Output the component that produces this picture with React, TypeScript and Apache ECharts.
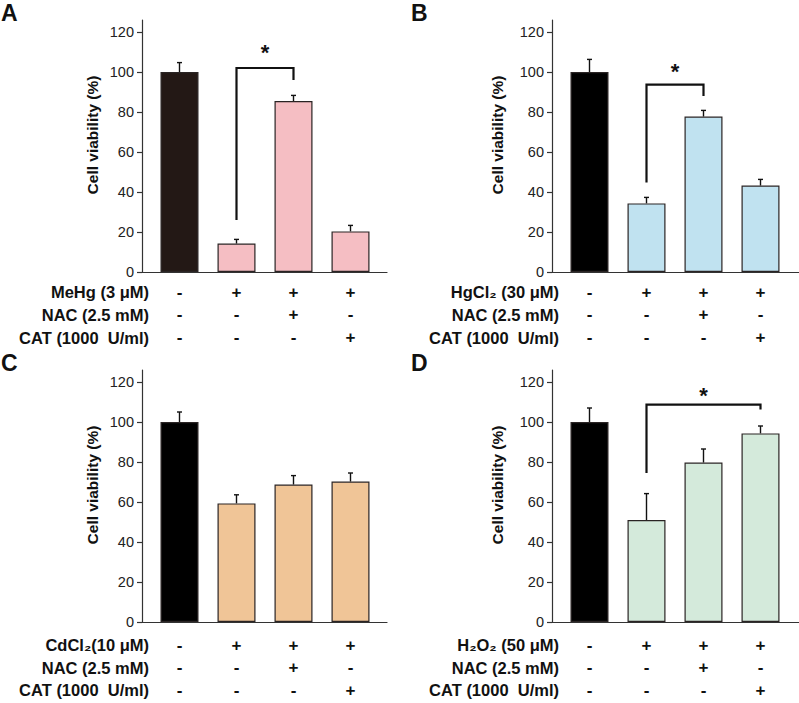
import React, { useEffect, useRef } from "react";
import * as echarts from "echarts";

// ---- data ----
const groupPositions = [0, 1, 2, 3];
const yTicks = [0, 20, 40, 60, 80, 100, 120];
const panelLetters = ["A", "B", "C", "D"];

const meanA = [100, 14.2, 85.5, 20.3];
const errA = [4.7, 2.1, 2.8, 3.0];
const meanB = [100, 34.3, 77.7, 43.2];
const errB = [6.3, 3.0, 3.1, 3.1];
const meanC = [100, 59.3, 68.7, 70.2];
const errC = [5.0, 4.3, 4.5, 4.3];
const meanD = [100, 51.0, 79.7, 94.3];
const errD = [7.0, 13.2, 6.8, 3.7];

const rowLabelsA = ["MeHg (3 μM)", "NAC (2.5 mM)", "CAT (1000  U/ml)"];
const rowLabelsB = ["HgCl₂ (30 μM)", "NAC (2.5 mM)", "CAT (1000  U/ml)"];
const rowLabelsC = ["CdCl₂(10 μM)", "NAC (2.5 mM)", "CAT (1000  U/ml)"];
const rowLabelsD = ["H₂O₂ (50 μM)", "NAC (2.5 mM)", "CAT (1000  U/ml)"];
const signs = [
  ["-", "+", "+", "+"],
  ["-", "-", "+", "-"],
  ["-", "-", "-", "+"],
];

// bracket: [fromGroup, toGroup, leftLow, top, rightLow, starY]
const bracketA = [1, 2, 26, 102, 96, 110];
const bracketB = [1, 2, 44.7, 93.7, 88, 100.5];
const bracketD = [1, 3, 74.5, 108.7, 106.2, 113.5];

const yAxisTitle = "Cell viability (%)";

const FONT = 'Arial, "Liberation Sans", Helvetica, sans-serif';

type Panel = {
  letter: string;
  mean: number[];
  err: number[];
  labels: string[];
  bracket: number[] | null;
  control: string;
  fill: string;
  left: number;
  top: number;
  width: number;
  nameGap: number;
  rowOffset: number;
};

const panels: Panel[] = [
  { letter: panelLetters[0], mean: meanA, err: errA, labels: rowLabelsA, bracket: bracketA, control: "#231815", fill: "#f5bec3", left: 142, top: 20, width: 245, nameGap: 42, rowOffset: 20.3 },
  { letter: panelLetters[1], mean: meanB, err: errB, labels: rowLabelsB, bracket: bracketB, control: "#000000", fill: "#c0e2f0", left: 552, top: 20, width: 247, nameGap: 47, rowOffset: 20.3 },
  { letter: panelLetters[2], mean: meanC, err: errC, labels: rowLabelsC, bracket: null, control: "#000000", fill: "#f0c597", left: 142, top: 370, width: 245, nameGap: 42, rowOffset: 23 },
  { letter: panelLetters[3], mean: meanD, err: errD, labels: rowLabelsD, bracket: bracketD, control: "#000000", fill: "#d4eadb", left: 552, top: 370, width: 247, nameGap: 47, rowOffset: 23 },
];

const PX_PER_GROUP = 57;
const FIRST_OFFSET = 37.5;
const ROW_GAP = 22.6;

export default function App() {
  const ref = useRef<HTMLDivElement>(null);
  useEffect(() => {
    if (!ref.current) return;
    const chart = echarts.init(ref.current, undefined, { renderer: "svg" });
    const grid: any[] = [];
    const xAxis: any[] = [];
    const yAxis: any[] = [];
    const series: any[] = [];
    const graphic: any[] = [];

    panels.forEach((p, i) => {
      const xMin = -FIRST_OFFSET / PX_PER_GROUP;
      const xMax = xMin + p.width / PX_PER_GROUP;
      grid.push({ left: p.left, top: p.top, width: p.width, height: 252 });
      xAxis.push({
        type: "value",
        gridIndex: i,
        min: xMin,
        max: xMax,
        axisLine: { show: true, onZero: false, lineStyle: { color: "#333", width: 1.2 } },
        axisTick: { show: false },
        axisLabel: { show: false },
        splitLine: { show: false },
      });
      yAxis.push({
        type: "value",
        gridIndex: i,
        min: 0,
        max: 126,
        name: yAxisTitle,
        nameLocation: "middle",
        nameGap: p.nameGap,
        nameRotate: 90,
        nameTextStyle: { fontFamily: FONT, fontWeight: "bold", fontSize: 15.5, color: "#111", padding: [0, 0, 0, 22] },
        axisLine: { show: true, onZero: false, lineStyle: { color: "#333", width: 1.2 } },
        axisTick: { show: true, length: 5, customValues: yTicks, lineStyle: { color: "#333", width: 1.2 } },
        axisLabel: { customValues: yTicks, fontFamily: FONT, fontSize: 14.5, color: "#222", margin: 8 },
        splitLine: { show: false },
      });

      series.push({
        type: "bar",
        xAxisIndex: i,
        yAxisIndex: i,
        barWidth: 38,
        data: p.mean.map((v, j) => ({
          value: [groupPositions[j], v],
          itemStyle: { color: j === 0 ? p.control : p.fill },
        })),
        itemStyle: { borderColor: "#2a2424", borderWidth: 1.2 },
      });

      series.push({
        type: "custom",
        xAxisIndex: i,
        yAxisIndex: i,
        clip: false,
        data: p.mean.map((v, j) => [groupPositions[j], v, v + p.err[j]]),
        renderItem: (_params: any, api: any) => {
          const x = api.value(0);
          const base = api.coord([x, api.value(1)]);
          const top = api.coord([x, api.value(2)]);
          const st = { stroke: "#111", lineWidth: 1.4 };
          return {
            type: "group",
            children: [
              { type: "line", shape: { x1: base[0], y1: base[1], x2: top[0], y2: top[1] }, style: st },
              { type: "line", shape: { x1: top[0] - 2.5, y1: top[1], x2: top[0] + 2.5, y2: top[1] }, style: st },
            ],
          };
        },
      });

      if (p.bracket) {
        const b = p.bracket;
        series.push({
          type: "custom",
          xAxisIndex: i,
          yAxisIndex: i,
          clip: false,
          data: [b],
          renderItem: (_params: any, api: any) => {
            const a = api.coord([api.value(0), api.value(2)]);
            const t1 = api.coord([api.value(0), api.value(3)]);
            const t2 = api.coord([api.value(1), api.value(3)]);
            const c = api.coord([api.value(1), api.value(4)]);
            const s = api.coord([(api.value(0) + api.value(1)) / 2, api.value(5)]);
            return {
              type: "group",
              children: [
                {
                  type: "polyline",
                  shape: { points: [a, t1, t2, c] },
                  style: { stroke: "#111", lineWidth: 2.2, fill: "none" },
                },
                {
                  type: "text",
                  x: s[0],
                  y: s[1],
                  style: { text: "*", fontFamily: FONT, fontWeight: "bold", fontSize: 22, fill: "#111", align: "center", verticalAlign: "middle" },
                },
              ],
            };
          },
        });
      }

      // treatment table signs
      const signData: number[][] = [];
      signs.forEach((row, r) => row.forEach((_s, c) => signData.push([groupPositions[c], r])));
      series.push({
        type: "custom",
        xAxisIndex: i,
        yAxisIndex: i,
        clip: false,
        data: signData,
        renderItem: (_params: any, api: any) => {
          const c = api.value(0);
          const r = api.value(1);
          const pt = api.coord([c, 0]);
          return {
            type: "text",
            x: pt[0],
            y: pt[1] + p.rowOffset + r * ROW_GAP,
            style: { text: signs[r][c], fontFamily: FONT, fontWeight: "bold", fontSize: 17, fill: "#111", align: "center", verticalAlign: "middle" },
          };
        },
      });
      // row labels
      series.push({
        type: "custom",
        xAxisIndex: i,
        yAxisIndex: i,
        clip: false,
        data: p.labels.map((_l, r) => [xMin, r]),
        renderItem: (params: any, api: any) => {
          const r = api.value(1);
          const pt = api.coord([api.value(0), 0]);
          return {
            type: "text",
            x: pt[0] + 7,
            y: pt[1] + p.rowOffset + r * ROW_GAP,
            style: { text: p.labels[params.dataIndex], fontFamily: FONT, fontWeight: "bold", fontSize: 16.5, fill: "#111", align: "right", verticalAlign: "middle" },
          };
        },
      });

      graphic.push({
        type: "text",
        left: i % 2 === 0 ? 1 : 411,
        top: i < 2 ? 1 : 351,
        style: { text: p.letter, fontFamily: FONT, fontWeight: "bold", fontSize: 23, fill: "#111" },
      });
    });

    chart.setOption({
      animation: false,
      backgroundColor: "#ffffff",
      grid,
      xAxis,
      yAxis,
      series,
      graphic,
    });
    return () => chart.dispose();
  }, []);

  return (
    <div
      ref={ref}
      style={{ position: "absolute", left: 0, top: 0, width: 799, height: 703, background: "#fff" }}
    />
  );
}
